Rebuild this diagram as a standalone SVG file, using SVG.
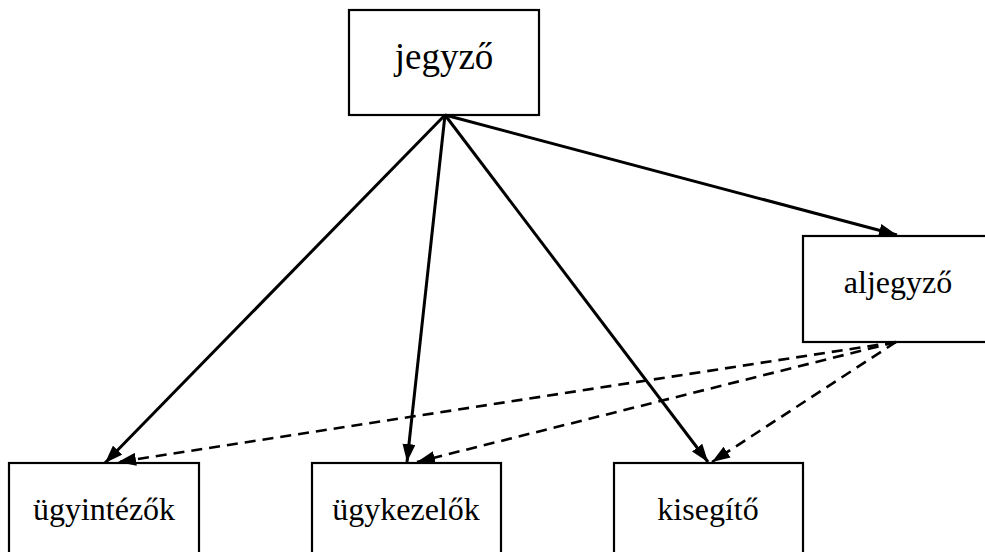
<svg xmlns="http://www.w3.org/2000/svg" width="985" height="552" viewBox="0 0 985 552">
<style>
.box{fill:#fff;stroke:#000;stroke-width:2.2}
.lbl{fill:#000;text-anchor:middle}
.solid{stroke:#000;stroke-width:3;fill:none}
.dash{stroke:#000;stroke-width:2.6;fill:none;stroke-dasharray:11 7}
</style>
<defs>
<marker id="ah" viewBox="0 0 18 13" refX="18" refY="6.5" markerWidth="18" markerHeight="13" markerUnits="userSpaceOnUse" orient="auto">
<path d="M0,0 L18,6.5 L0,13 Z" fill="#000"/>
</marker>
</defs>
<rect width="985" height="552" fill="#fff"/>
<g id="jegyzo"><rect class="box" x="349" y="10" width="190" height="105"/><text class="lbl" font-family="Liberation Serif, Tinos, Times New Roman, serif" x="444" y="69" font-size="37">jegyző</text></g>
<g id="aljegyzo"><rect class="box" x="803" y="236" width="185" height="106"/><text class="lbl" font-family="Liberation Serif, Tinos, Times New Roman, serif" x="898" y="293" font-size="32">aljegyző</text></g>
<g id="ugyintezok"><rect class="box" x="9" y="463" width="190" height="100"/><text class="lbl" font-family="Liberation Serif, Tinos, Times New Roman, serif" x="104" y="520" font-size="32">ügyintézők</text></g>
<g id="ugykezelok"><rect class="box" x="312" y="463" width="189" height="100"/><text class="lbl" font-family="Liberation Serif, Tinos, Times New Roman, serif" x="406" y="520" font-size="32">ügykezelők</text></g>
<g id="kisegito"><rect class="box" x="614" y="463" width="189" height="100"/><text class="lbl" font-family="Liberation Serif, Tinos, Times New Roman, serif" x="708" y="520" font-size="32">kisegítő</text></g>
<g id="connectors">
<line class="solid" x1="445" y1="115" x2="105" y2="463" marker-end="url(#ah)" stroke-width="3.5"/>
<line class="solid" x1="445" y1="115" x2="407" y2="462" marker-end="url(#ah)"/>
<line class="solid" x1="445" y1="115" x2="708" y2="462" marker-end="url(#ah)"/>
<line class="solid" x1="445" y1="115" x2="897" y2="235" marker-end="url(#ah)"/>
<line class="dash" x1="896" y1="342" x2="118" y2="462" marker-end="url(#ah)"/>
<line class="dash" x1="896" y1="342" x2="417" y2="462" marker-end="url(#ah)"/>
<line class="dash" x1="896" y1="342" x2="712" y2="462" marker-end="url(#ah)"/>
</g>
</svg>
